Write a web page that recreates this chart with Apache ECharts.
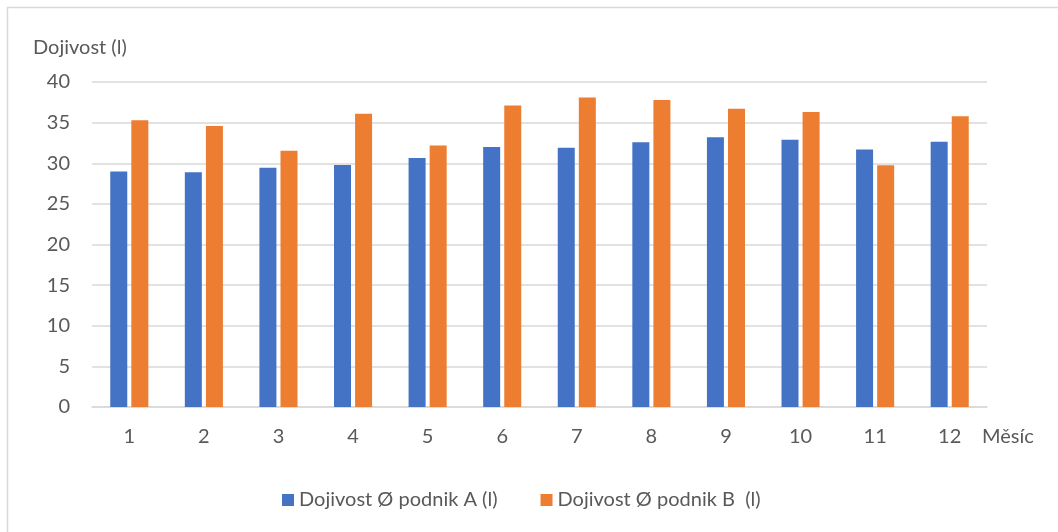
<!DOCTYPE html>
<html>
<head>
<meta charset="utf-8">
<script src="https://cdn.jsdelivr.net/npm/echarts@6/dist/echarts.min.js"></script>
<style>
  html, body { margin: 0; padding: 0; background: #fff; }
  #chart { width: 1058px; height: 532px; }
</style>
</head>
<body>
<div id="chart"></div>
<script>
// months 1..12
const months = ['1', '2', '3', '4', '5', '6', '7', '8', '9', '10', '11', '12']
// average milk yield per company (l)
const podnikA = [29.0, 28.9, 29.45, 29.8, 30.65, 32.0, 31.9, 32.6, 33.2, 32.9, 31.7, 32.65]
const podnikB = [35.3, 34.6, 31.55, 36.1, 32.2, 37.1, 38.1, 37.8, 36.7, 36.3, 29.75, 35.8]
const seriesNames = ['Dojivost Ø podnik A (l)', 'Dojivost Ø podnik B  (l)']

const font = 'Lato'
const textColor = '#595959'

const myChart = echarts.init(document.getElementById('chart'))

const option = {
  backgroundColor: '#fff',
  textStyle: { fontFamily: font },
  animation: false,

  // outer chart frame (only left/top edges show in the picture)
  graphic: [{
    type: 'rect',
    shape: { x: 7.5, y: 7.5, width: 1200, height: 700 },
    style: { fill: 'none', stroke: '#d9d9d9', lineWidth: 1.5 },
    silent: true
  }],

  title: {
    text: 'Dojivost (l)',
    left: 28,
    top: 33,
    textStyle: { color: textColor, fontSize: 20, fontWeight: 'normal', fontFamily: font }
  },

  legend: {
    data: seriesNames,
    left: 277,
    top: 485,
    itemWidth: 12,
    itemHeight: 12,
    itemGap: 43,
    icon: 'rect',
    textStyle: { color: textColor, fontSize: 20, fontFamily: font }
  },

  grid: {
    left: 92,
    right: 71,
    top: 82,
    bottom: 125,
    containLabel: false
  },

  xAxis: {
    type: 'category',
    data: months,
    name: 'Měsíc',
    nameLocation: 'end',
    nameGap: -5,
    nameTextStyle: {
      color: textColor, fontSize: 20, fontFamily: font,
      align: 'left', verticalAlign: 'top', padding: [20, 0, 0, 0]
    },
    axisLine: { lineStyle: { color: '#d9d9d9', width: 1.5 } },
    axisTick: { show: false },
    axisLabel: { color: textColor, fontSize: 20, margin: 20, fontFamily: font }
  },

  yAxis: {
    type: 'value',
    min: 0,
    max: 40,
    interval: 5,
    axisLine: { show: false },
    axisTick: { show: false },
    axisLabel: { color: textColor, fontSize: 20, margin: 22, fontFamily: font },
    splitLine: { lineStyle: { color: '#d9d9d9', width: 1.5 } }
  },

  series: [
    {
      name: seriesNames[0],
      type: 'bar',
      data: podnikA,
      barWidth: 17,
      barGap: '24%',
      itemStyle: { color: '#4472C4' }
    },
    {
      name: seriesNames[1],
      type: 'bar',
      data: podnikB,
      barWidth: 17,
      itemStyle: { color: '#ED7D31' }
    }
  ]
}

myChart.setOption(option)
</script>
</body>
</html>
